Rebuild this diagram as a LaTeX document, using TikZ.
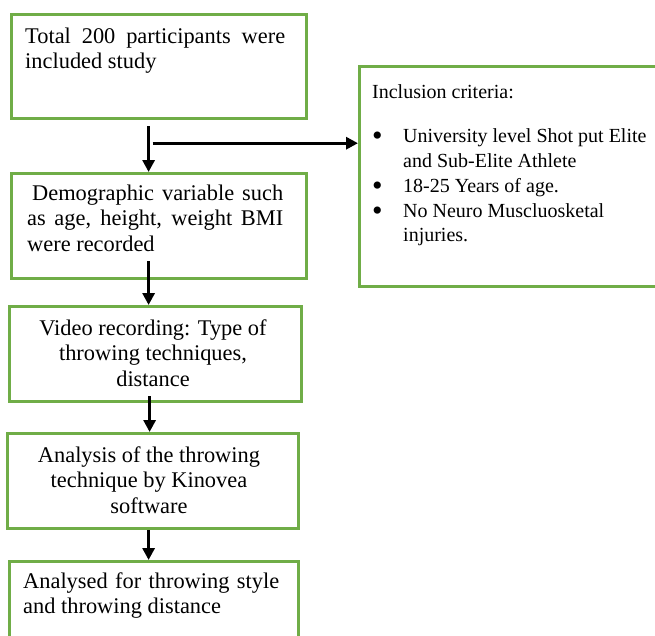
\documentclass[tikz,border=0pt]{standalone}
\usepackage{fontspec}
\setmainfont{Liberation Serif}
\usetikzlibrary{arrows.meta}
\definecolor{boxgreen}{RGB}{112,173,71}
\newcommand{\crititem}[1]{\par\hangindent=31pt\hangafter=1\noindent
  \makebox[31pt][l]{\raisebox{-3pt}[0pt][0pt]{\fontsize{30}{0}\selectfont\textbullet}}#1\par}

\begin{document}
\hyphenpenalty=10000
\tolerance=9999
\begin{tikzpicture}[x=1pt, y=1pt,
    frame/.style={draw=boxgreen, line width=3.2pt, inner sep=0pt, anchor=north west},
    steptext/.style={inner sep=0pt, font=\fontsize{22.4}{25.5}\selectfont},
    flow/.style={line width=3pt, -{Triangle[length=12pt,width=12pt]}}]
    \useasboundingbox (0,0) rectangle (655,-635);

    % Frames
    \node[frame, minimum width=295, minimum height=104] (total) at (10,-13) {};
    \node[frame, minimum width=295, minimum height=105] (demo) at (10,-172) {};
    \node[frame, minimum width=292, minimum height=95] (video) at (8,-305) {};
    \node[frame, minimum width=291, minimum height=95] (kino) at (6,-432) {};
    \node[frame, minimum width=289, minimum height=95] (result) at (8,-560) {};
    \node[frame, minimum width=310, minimum height=220] (incl) at (358,-65) {};

    % Texts
    \node[steptext, anchor=base west, text width=260, align=justify] (total-t) at (25,-43)
        {Total 200 participants were included study};
    \node[steptext, anchor=base west, text width=256, align=justify] (demo-t) at (27,-200)
        {\hspace*{5pt}Demographic variable such as age, height, weight BMI were recorded};
    \node[steptext, anchor=base, text width=270, align=flush center] (video-t) at (153,-335)
        {Video recording: Type of\\throwing techniques,\\distance};
    \node[steptext, anchor=base, text width=270, align=flush center] (kino-t) at (149,-462)
        {Analysis of the throwing\\technique by Kinovea\\software};
    \node[steptext, anchor=base west, text width=256, align=justify] (result-t) at (23,-588)
        {Analysed for throwing style and throwing distance};
    \node[inner sep=0pt, anchor=base west, text width=285, align=flush left,
          font=\fontsize{20}{24.75}\selectfont] (incl-t) at (372,-98)
        {Inclusion criteria:\par\vspace{20pt}%
         \crititem{University level Shot put Elite and Sub-Elite Athlete}%
         \crititem{18-25 Years of age.}%
         \crititem{No Neuro Muscluosketal injuries.}};

    % Arrows
    \coordinate (tap1) at ([xshift=-10.5pt,yshift=-6pt]total.south);
    \coordinate (branch) at ([xshift=-10.5pt,yshift=-23pt]total.south);
    \coordinate (tap2) at ([xshift=-10.5pt,yshift=19pt]demo.south);
    \coordinate (tap3) at ([xshift=-6pt,yshift=7pt]video.south);
    \coordinate (tap4) at ([xshift=-4.5pt]kino.south);
    \draw[flow] (tap1) -- (tap1 |- demo.north);
    \draw[flow] ([xshift=4pt]branch) -- (branch -| incl.west);
    \draw[flow] (tap2) -- (tap2 |- video.north);
    \draw[flow] (tap3) -- (tap3 |- kino.north);
    \draw[flow] (tap4) -- (tap4 |- result.north);
\end{tikzpicture}
\end{document}
